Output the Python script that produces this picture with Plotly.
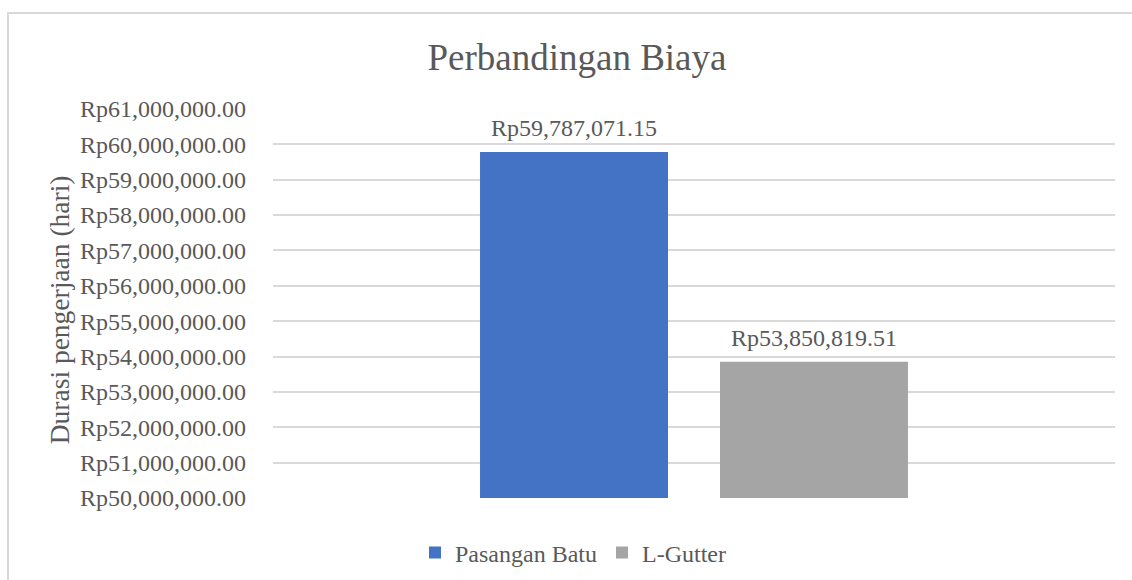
import plotly.graph_objects as go

# Cost comparison data
categories = ["Biaya"]
series_names = ["Pasangan Batu", "L-Gutter"]
series_values = [59787071.15, 53850819.51]
series_colors = ["#4472C4", "#A5A5A5"]

y_min, y_max, y_step = 50_000_000, 61_000_000, 1_000_000

FONT = "Liberation Serif"
TEXT = "#595959"
GRID = "#D9D9D9"

fig = go.Figure()
for name, val, col in zip(series_names, series_values, series_colors):
    fig.add_trace(go.Bar(
        x=categories, y=[val], name=name,
        marker=dict(color=col, line=dict(width=0)),
        hoverinfo="skip",
    ))

# value labels above each bar
offsets = [-120, 120]
for val, dx in zip(series_values, offsets):
    fig.add_annotation(
        x=categories[0], y=val, xref="x", yref="y",
        text=f"Rp{val:,.2f}", showarrow=False,
        xanchor="center", yanchor="bottom", xshift=dx, yshift=9,
        font=dict(family=FONT, size=24, color=TEXT),
    )

# axis title
fig.add_annotation(
    x=-0.2542, y=0.485, xref="paper", yref="paper",
    text="Durasi pengerjaan (hari)", textangle=-90, showarrow=False,
    xanchor="center", yanchor="middle",
    font=dict(family=FONT, size=27.5, color=TEXT),
)

# chart border
fig.add_shape(
    type="rect", xref="paper", yref="paper",
    x0=-0.3147, x1=1.05, y0=-0.3, y1=1.2468,
    line=dict(color=GRID, width=2), fillcolor="rgba(0,0,0,0)", layer="below",
)

fig.update_layout(
    width=1132, height=580,
    font=dict(family=FONT, color=TEXT, size=24),
    margin=dict(l=273, r=17, t=109, b=82),
    paper_bgcolor="white", plot_bgcolor="white",
    barmode="group", bargap=0.43, bargroupgap=0.2167,
    title=dict(
        text="Perbandingan Biaya", x=0.5097, xanchor="center",
        y=1 - 57 / 580, yanchor="middle",
        font=dict(family=FONT, size=37, color=TEXT),
    ),
    showlegend=True,
    legend=dict(
        orientation="h", x=0.5 + 7 / 1132, xanchor="center", xref="container",
        y=(580 - 553) / 580, yanchor="middle", yref="container",
        font=dict(family=FONT, size=24, color=TEXT),
        itemwidth=30, tracegroupgap=0,
    ),
    xaxis=dict(
        showticklabels=False, showgrid=False, zeroline=False,
        showline=False, ticks="", range=[-0.5, 0.5],
    ),
    yaxis=dict(
        range=[y_min, y_max], dtick=y_step, tick0=y_min,
        tickprefix="Rp", tickformat=",.2f",
        showgrid=True, gridcolor=GRID, gridwidth=1.5,
        zeroline=False, showline=False, ticks="",
        ticklabelstandoff=26,
        tickfont=dict(family=FONT, size=24, color=TEXT),
    ),
)

fig.write_html("out.html")
